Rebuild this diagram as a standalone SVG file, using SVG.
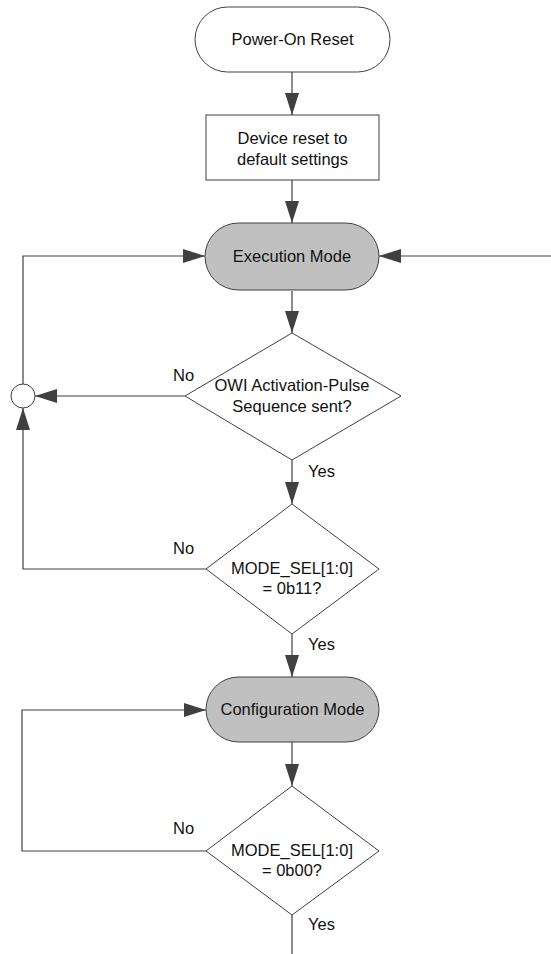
<svg xmlns="http://www.w3.org/2000/svg" width="551" height="954" viewBox="0 0 551 954">
<style>
.shape{stroke:#404040;stroke-width:1;fill:#ffffff}
.mode{fill:#c0c0c0}
.ln{stroke:#404040;stroke-width:1.2;fill:none}
text{font-family:"Liberation Sans",Arial,sans-serif;font-size:16.5px;fill:#111111}
.c{text-anchor:middle}
</style>
<defs>
<marker id="ah" markerUnits="userSpaceOnUse" markerWidth="24" markerHeight="16" refX="22" refY="7" orient="auto">
<path d="M0,0 L22,7 L0,14 Z" fill="#404040"/>
</marker>
</defs>
<rect width="551" height="954" fill="#ffffff"/>
<g id="connectors">
<path class="ln" d="M292,72 V115" marker-end="url(#ah)"/>
<path class="ln" d="M292,180 V223" marker-end="url(#ah)"/>
<path class="ln" d="M551,256 H379" marker-end="url(#ah)"/>
<path class="ln" d="M292,291 V333" marker-end="url(#ah)"/>
<path class="ln" d="M185,396 H35" marker-end="url(#ah)"/>
<path class="ln" d="M23,384 V256 H205" marker-end="url(#ah)"/>
<path class="ln" d="M206,569 H23 V408" marker-end="url(#ah)"/>
<path class="ln" d="M292,460 V504" marker-end="url(#ah)"/>
<path class="ln" d="M292,634 V677" marker-end="url(#ah)"/>
<path class="ln" d="M292,742 V786" marker-end="url(#ah)"/>
<path class="ln" d="M206,851 H22 V710 H206" marker-end="url(#ah)"/>
<path class="ln" d="M292,915 V954"/>
<text x="173" y="381">No</text>
<text x="308" y="477">Yes</text>
<text x="173" y="554">No</text>
<text x="308" y="650">Yes</text>
<text x="173" y="834">No</text>
<text x="308" y="930">Yes</text>
</g>
<g id="power-on">
<rect class="shape" x="195" y="7" width="195" height="65" rx="32.5"/>
<text class="c" x="292.5" y="45">Power-On Reset</text>
</g>
<g id="device-reset">
<rect class="shape" x="206" y="115" width="173" height="65"/>
<text class="c" x="292.5" y="144">Device reset to</text>
<text class="c" x="292.5" y="165">default settings</text>
</g>
<g id="execution-mode">
<rect class="shape mode" x="205" y="223" width="174" height="67" rx="33.5"/>
<text class="c" x="292" y="262">Execution Mode</text>
</g>
<g id="owi-decision">
<polygon class="shape" points="292,333 401,396 292,460 185,396"/>
<text class="c" x="292" y="391">OWI Activation-Pulse</text>
<text class="c" x="292" y="412">Sequence sent?</text>
</g>
<g id="junction">
<circle class="shape" cx="23" cy="396" r="12"/>
</g>
<g id="mode-sel-11">
<polygon class="shape" points="292,504 379,569 292,634 206,569"/>
<text class="c" x="292" y="574">MODE_SEL[1:0]</text>
<text class="c" x="292" y="594">= 0b11?</text>
</g>
<g id="configuration-mode">
<rect class="shape mode" x="206" y="677" width="173" height="65" rx="32.5"/>
<text class="c" x="292.5" y="715">Configuration Mode</text>
</g>
<g id="mode-sel-00">
<polygon class="shape" points="292,786 379,851 292,915 206,851"/>
<text class="c" x="292" y="856">MODE_SEL[1:0]</text>
<text class="c" x="292" y="876">= 0b00?</text>
</g>
</svg>
